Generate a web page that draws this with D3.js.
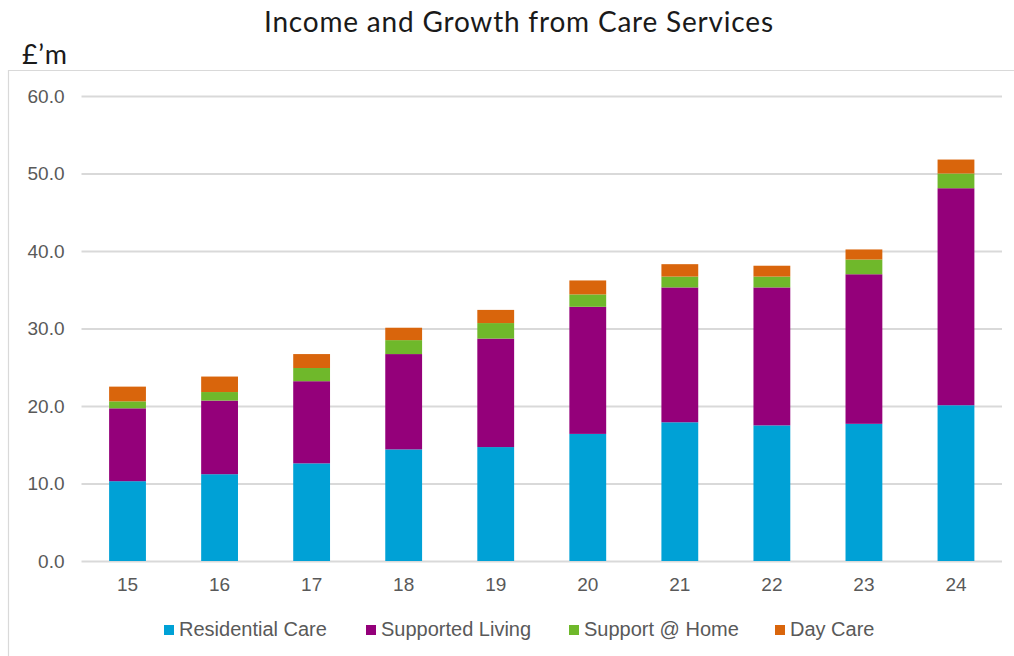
<!DOCTYPE html>
<html>
<head>
<meta charset="utf-8">
<script src="https://cdn.jsdelivr.net/npm/d3@7"></script>
<style>
  body { margin: 0; background: #fff; }
  svg { display: block; }
</style>
</head>
<body>
<svg id="chart" width="1014" height="656"></svg>
<script>
// data (£m)
var years = ['15', '16', '17', '18', '19', '20', '21', '22', '23', '24'];
var residential = [10.3, 11.2, 12.6, 14.4, 14.7, 16.4, 17.9, 17.5, 17.7, 20.1];
var supported   = [9.4, 9.5, 10.6, 12.3, 14.0, 16.4, 17.4, 17.8, 19.3, 28.0];
var atHome      = [0.9, 1.1, 1.7, 1.8, 2.0, 1.6, 1.4, 1.4, 1.9, 1.9];
var dayCare     = [1.9, 2.0, 1.8, 1.6, 1.7, 1.8, 1.6, 1.4, 1.3, 1.8];
var seriesNames = ['Residential Care', 'Supported Living', 'Support @ Home', 'Day Care'];
var colours = ['#00a1d6', '#94007a', '#6fb82b', '#d9650c'];
var yTicks = [0, 10, 20, 30, 40, 50, 60];

function drawChart() {
  var svg = d3.select('#chart');

  var plotLeft = 81.5, plotRight = 1002, plotTop = 96, plotBottom = 561;

  var rows = years.map(function (y, i) {
    return { year: y, s0: residential[i], s1: supported[i], s2: atHome[i], s3: dayCare[i] };
  });
  var stacked = d3.stack().keys(['s0', 's1', 's2', 's3'])(rows);

  var xScale = d3.scaleBand().domain(years).range([plotLeft, plotRight]).paddingInner(0.6).paddingOuter(0.3);
  var yScale = d3.scaleLinear().domain([0, 60]).range([plotBottom, plotTop]);

  // outer frame (top and left only, like the original)
  svg.append('path')
    .attr('d', 'M1014,70.5H8.5V656')
    .attr('fill', 'none')
    .attr('stroke', '#d9d9d9')
    .attr('stroke-width', 1.2);

  // title
  svg.append('text')
    .attr('x', 264)
    .attr('y', 32)
    .attr('textLength', 509)
    .attr('lengthAdjust', 'spacing')
    .style('font-family', 'Lato, "Noto Sans", sans-serif')
    .style('font-size', '28px')
    .style('fill', '#1a1a1a')
    .text('Income and Growth from Care Services');

  svg.append('text')
    .attr('x', 22)
    .attr('y', 64)
    .attr('textLength', 45)
    .attr('lengthAdjust', 'spacing')
    .style('font-family', 'Lato, "Noto Sans", sans-serif')
    .style('font-size', '27px')
    .style('fill', '#1a1a1a')
    .text('£’m');

  // gridlines + y axis
  var yAxis = d3.axisLeft(yScale)
    .tickValues(yTicks)
    .tickFormat(d3.format('.1f'))
    .tickSize(-(plotRight - plotLeft))
    .tickPadding(17);

  var gy = svg.append('g')
    .attr('transform', 'translate(' + plotLeft + ',0)')
    .call(yAxis);
  gy.select('.domain').remove();
  gy.selectAll('line').attr('stroke', '#d9d9d9').attr('stroke-width', 2);
  gy.selectAll('text')
    .style('font-family', '"Liberation Sans", Arial, sans-serif')
    .style('font-size', '19px')
    .style('fill', '#595959');

  // bars
  svg.append('g')
    .selectAll('g')
    .data(stacked)
    .enter()
    .append('g')
    .attr('fill', function (d, i) { return colours[i]; })
    .selectAll('rect')
    .data(function (d) { return d; })
    .enter()
    .append('rect')
    .attr('x', function (d) { return xScale(d.data.year); })
    .attr('width', xScale.bandwidth())
    .attr('y', function (d) { return yScale(d[1]); })
    .attr('height', function (d) { return yScale(d[0]) - yScale(d[1]); });

  // x axis
  var xAxis = d3.axisBottom(xScale).tickSize(0).tickPadding(17);
  var gx = svg.append('g')
    .attr('transform', 'translate(0,' + plotBottom + ')')
    .call(xAxis);
  gx.select('.domain').remove();
  gx.selectAll('text')
    .style('font-family', '"Liberation Sans", Arial, sans-serif')
    .style('font-size', '19px')
    .style('fill', '#595959');

  // legend
  var legendX = [164, 366, 569, 775];
  var legend = svg.append('g')
    .selectAll('g')
    .data(seriesNames)
    .enter()
    .append('g')
    .attr('transform', function (d, i) { return 'translate(' + legendX[i] + ',636)'; });

  legend.append('rect')
    .attr('x', 0)
    .attr('y', -11)
    .attr('width', 10)
    .attr('height', 10)
    .attr('fill', function (d, i) { return colours[i]; });

  legend.append('text')
    .attr('x', 15)
    .attr('y', 0)
    .style('font-family', '"Liberation Sans", Arial, sans-serif')
    .style('font-size', '20px')
    .style('fill', '#595959')
    .text(function (d) { return d; });
}

drawChart();
</script>
</body>
</html>
